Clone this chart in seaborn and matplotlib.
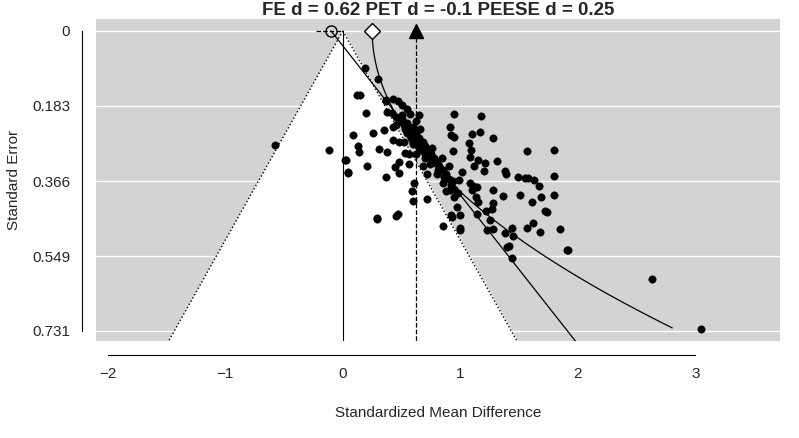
import numpy as np
import pandas as pd
import matplotlib
matplotlib.use("Agg")
import matplotlib.pyplot as plt
import seaborn as sns

# ------------------------------------------------------
# data
# ------------------------------------------------------
smd = [-0.58, -0.12, 0.03, 0.04, 0.12, 0.15, 0.19, 0.30, 0.37, 0.29, 0.47, 0.59,
       2.63, 3.05, 1.91, 1.68, 1.57, 1.72, 1.80, 1.58, 1.67, 1.80, 1.38, 1.49,
       1.51, 1.45, 1.44, 1.40, 1.28, 1.25, 1.22, 1.15, 1.10, 1.31, 1.09, 0.95,
       1.17, 1.28, 1.00, 1.00,
       0.20, 0.37, 0.38, 0.50, 0.57, 0.65, 0.95, 1.18, 0.09, 0.26, 0.35, 0.43,
       0.13, 0.14, 0.31, 0.38, 0.43, 0.48, 0.02, 0.04, 0.21, 0.37, 0.44, 0.48,
       0.48, 0.56, 0.53, 0.61, 0.60, 0.72, 0.29, 0.45, 0.85, 0.93, 1.00, 1.14,
       1.23, 1.38, 1.41, 1.44, 1.62, 1.85, 1.92, 1.74, 1.61, 1.69, 1.36, 1.28,
       1.27, 1.13, 1.11, 1.08, 0.91, 0.95, 0.97, 0.92, 1.39, 1.55, 1.63, 1.80,
       1.57, 1.28, 1.07, 1.10, 0.91, 0.92, 0.94, 1.08, 1.15, 1.21, 1.20, 1.12,
       1.01, 0.99, 1.14,
       0.42, 0.45, 0.48, 0.50, 0.52, 0.55, 0.58, 0.60, 0.55, 0.62, 0.65, 0.60,
       0.68, 0.70, 0.66, 0.72, 0.75, 0.70, 0.78, 0.80, 0.74, 0.82, 0.85, 0.80,
       0.88, 0.90, 0.85, 0.92, 0.95, 0.88, 0.62, 0.66, 0.58, 0.64, 0.76, 0.84,
       0.90, 0.55, 0.50, 0.47, 0.43, 0.62, 0.68, 0.72, 0.45, 0.52, 0.56, 0.53,
       0.57, 0.63, 0.67, 0.73, 0.77, 0.81, 0.86, 0.94, 0.98, 0.60, 0.70]
se = [0.278, 0.290, 0.315, 0.344, 0.156, 0.156, 0.090, 0.117, 0.168, 0.456, 0.446, 0.390,
      0.605, 0.727, 0.534, 0.490, 0.480, 0.440, 0.290, 0.358, 0.378, 0.400, 0.341, 0.356,
      0.400, 0.500, 0.554, 0.527, 0.483, 0.460, 0.440, 0.417, 0.388, 0.317, 0.290, 0.259,
      0.246, 0.388, 0.449, 0.480,
      0.200, 0.171, 0.198, 0.205, 0.202, 0.205, 0.202, 0.207, 0.254, 0.249, 0.241, 0.234,
      0.280, 0.295, 0.288, 0.295, 0.266, 0.271, 0.315, 0.346, 0.329, 0.356, 0.332, 0.320,
      0.346, 0.324, 0.298, 0.371, 0.415, 0.410, 0.459, 0.451, 0.476, 0.454, 0.485, 0.446,
      0.485, 0.493, 0.524, 0.480, 0.468, 0.483, 0.534, 0.441, 0.417, 0.405, 0.402, 0.420,
      0.434, 0.405, 0.378, 0.371, 0.388, 0.405, 0.429, 0.449, 0.349, 0.358, 0.363, 0.354,
      0.293, 0.261, 0.273, 0.251, 0.234, 0.254, 0.293, 0.307, 0.315, 0.322, 0.341, 0.329,
      0.344, 0.363, 0.380,
      0.200, 0.210, 0.220, 0.215, 0.230, 0.225, 0.240, 0.235, 0.250, 0.250, 0.260, 0.270,
      0.270, 0.280, 0.290, 0.295, 0.300, 0.310, 0.310, 0.320, 0.325, 0.330, 0.340, 0.350,
      0.350, 0.360, 0.370, 0.375, 0.385, 0.390, 0.220, 0.240, 0.260, 0.280, 0.285, 0.310,
      0.330, 0.190, 0.180, 0.170, 0.165, 0.300, 0.330, 0.350, 0.230, 0.270, 0.300, 0.240,
      0.255, 0.265, 0.285, 0.305, 0.320, 0.340, 0.355, 0.365, 0.395, 0.275, 0.300]

fe_d = 0.62
pet_b0, pet_b1 = -0.10, 2.75
peese_b0, peese_b1 = 0.25, 4.87
y_ticks = [0, 0.183, 0.366, 0.549, 0.731]
y_labels = ["0", "0.183", "0.366", "0.549", "0.731"]

df = pd.DataFrame({"smd": smd, "se": se})

# ------------------------------------------------------
# plot
# ------------------------------------------------------
sns.set_style("white")
plt.rcParams["font.family"] = ["Liberation Sans", "DejaVu Sans"]
fig = plt.figure(figsize=(7.99, 4.38), dpi=100)
ax = fig.add_axes([96 / 799, 1 - 341 / 438, 684 / 799, 322 / 438])
ax.set_facecolor("#d3d3d3")

se_max = 0.756
grid = np.linspace(0, se_max, 200)
ax.fill_betweenx(grid, -1.96 * grid, 1.96 * grid, color="white", zorder=1)
ax.plot(-1.96 * grid, grid, color="black", ls=":", lw=1, zorder=2)
ax.plot(1.96 * grid, grid, color="black", ls=":", lw=1, zorder=2)
for t in y_ticks:
    ax.axhline(t, color="white", lw=1, zorder=1.5)
ax.plot([0, 0], [0, se_max], color="black", lw=0.8, zorder=2)

# PET / PEESE lines
ax.plot(pet_b0 + pet_b1 * grid, grid, color="black", lw=0.9, zorder=3)
g2 = np.linspace(0, 0.724, 200)
ax.plot(peese_b0 + peese_b1 * g2 ** 2, g2, color="black", lw=0.9, zorder=3)

sns.scatterplot(data=df, x="smd", y="se", color="black", s=28,
                edgecolor="black", ax=ax, zorder=4)

# estimates
ax.plot([fe_d, fe_d], [0, se_max], color="black", ls="--", lw=0.9, zorder=3)
ax.plot([-0.23, 0.0], [0, 0], color="black", ls="--", lw=0.9, zorder=3)
ax.plot([pet_b0], [0], marker="o", mfc="none", mec="black", ms=8, zorder=5)
ax.plot([peese_b0], [0], marker="D", mfc="white", mec="black", ms=8, zorder=5)
ax.plot([fe_d], [0], marker="^", color="black", ms=10, zorder=5)

ax.set_xlim(-2.1, 3.72)
ax.set_ylim(se_max, -0.029)
ax.set_xticks([-2, -1, 0, 1, 2, 3])
ax.set_yticks(y_ticks)
ax.set_yticklabels(y_labels, rotation=90, va="center")
ax.tick_params(axis="both", length=5, color="black", labelsize=11)
ax.spines["top"].set_visible(False)
ax.spines["right"].set_visible(False)
ax.spines["bottom"].set_position(("outward", 10))
ax.spines["left"].set_position(("outward", 10))
ax.spines["bottom"].set_bounds(-2, 3)
ax.spines["left"].set_bounds(0, 0.731)
ax.spines["bottom"].set_color("black")
ax.spines["left"].set_color("black")

ax.set_xlabel("Standardized Mean Difference", fontsize=11, labelpad=18)
ax.set_ylabel("Standard Error", fontsize=11, labelpad=8)
ax.set_title(f"FE d = {fe_d} PET d = {pet_b0} PEESE d = {peese_b0}",
             fontsize=13.5, fontweight="bold", pad=3)

fig.savefig("out.png", dpi=100)
